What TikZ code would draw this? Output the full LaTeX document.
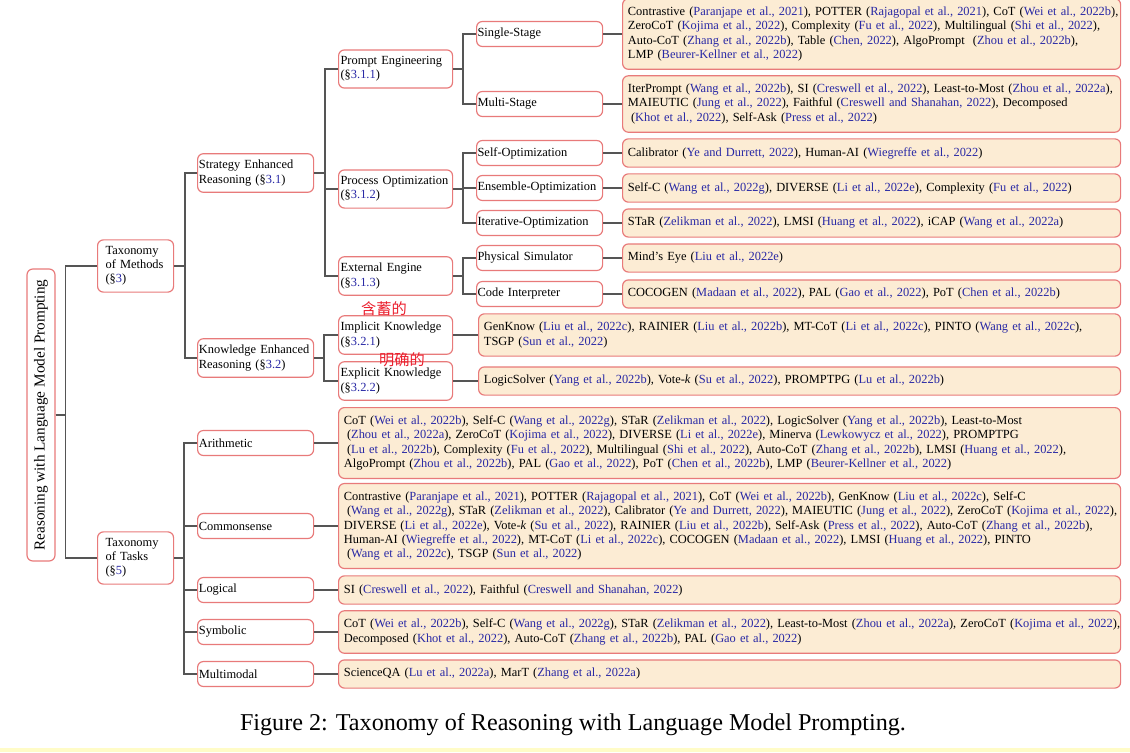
\documentclass[tikz,border=0pt]{standalone}
\usepackage{fontspec}
\setmainfont{Liberation Serif}
\newfontfamily\cjk{Noto Sans CJK SC}
\definecolor{citeblue}{RGB}{40,40,165}
\definecolor{edgered}{RGB}{232,122,122}
\definecolor{leaffill}{RGB}{252,236,212}
\definecolor{linkgray}{RGB}{85,85,85}
\definecolor{inkred}{RGB}{235,30,45}
\newcommand{\ct}[1]{({\color{citeblue}#1})}
\newcommand{\secnum}[1]{(\S{\color{citeblue}#1})}
\newcommand{\lead}{\hspace*{0.25em}}

\begin{document}
\begin{tikzpicture}[x=0.03cm,y=-0.03cm,
  box/.style={draw=edgered, line width=1pt, rounded corners=5pt, fill=white, align=left, anchor=west,
    font=\fontsize{10.6}{12.1}\selectfont, inner ysep=5.6pt, minimum height=0.75cm},
  taxbox/.style={box, text width=1.8cm, inner xsep=0.24cm},
  midbox/.style={box, text width=3.4cm, inner xsep=0.04cm},
  subbox/.style={box, text width=3.3cm, inner xsep=0.06cm},
  stagebox/.style={box, text width=3.72cm, inner xsep=0.03cm},
  refbox/.style={box, fill=leaffill, inner ysep=7.2pt, minimum height=0pt, inner xsep=0.02cm, text width=#1,
    execute at begin node={\leftskip=0.14cm\rightskip=0pt plus 1fil minus 6pt\linepenalty=5000}},
  rootbox/.style={draw=edgered, line width=1pt, rounded corners=5pt, rotate=90, minimum width=8.76cm,
    minimum height=0.84cm, inner sep=0pt, font=\fontsize{13}{15}\selectfont},
  inknote/.style={text=inkred, inner sep=0pt, font=\cjk\fontsize{13}{13}\selectfont},
  link/.style={draw=linkgray, line width=1.4pt},
]
\useasboundingbox (0,0) rectangle (1130,752);
\fill[yellow!22] (0,748) rectangle (1130,752);

\node[rootbox] (root) at (41,415) {Reasoning with Language Model Prompting};

\node[taxbox] (meth) at (97,266) {Taxonomy\\of Methods\\\secnum{3}};
\node[taxbox] (tasks) at (97,558) {Taxonomy\\of Tasks\\\secnum{5}};

\node[midbox] (strat) at (197,173) {Strategy Enhanced\\Reasoning \secnum{3.1}};
\node[midbox] (know) at (197,358) {Knowledge Enhanced\\Reasoning \secnum{3.2}};
\node[midbox] (arith) at (197,443) {Arithmetic};
\node[midbox] (common) at (197,526) {Commonsense};
\node[midbox] (logical) at (197,590) {Logical};
\node[midbox] (symbolic) at (197,632) {Symbolic};
\node[midbox] (multimodal) at (197,674) {Multimodal};

\node[subbox] (prompt) at (338,69) {Prompt Engineering\\\secnum{3.1.1}};
\node[subbox] (process) at (338,189) {Process Optimization\\\secnum{3.1.2}};
\node[subbox] (engine) at (338,276) {External Engine\\\secnum{3.1.3}};
\node[subbox] (implicit) at (338,335) {Implicit Knowledge\\\secnum{3.2.1}};
\node[subbox] (explicit) at (338,381) {Explicit Knowledge\\\secnum{3.2.2}};

\node[stagebox] (single) at (476,34) {Single-Stage};
\node[stagebox] (multi) at (476,104) {Multi-Stage};
\node[stagebox] (selfopt) at (476,153) {Self-Optimization};
\node[stagebox] (ensemble) at (476,188) {Ensemble-Optimization};
\node[stagebox] (iterative) at (476,223) {Iterative-Optimization};
\node[stagebox] (physical) at (476,258) {Physical Simulator};
\node[stagebox] (code) at (476,294) {Code Interpreter};

\node[refbox=14.9cm] (singlerefs) at (622,34) {Contrastive \ct{Paranjape et al., 2021}, POTTER \ct{Rajagopal et al., 2021}, CoT \ct{Wei et al., 2022b},\\
  ZeroCoT \ct{Kojima et al., 2022}, Complexity \ct{Fu et al., 2022}, Multilingual \ct{Shi et al., 2022},\\
  Auto-CoT \ct{Zhang et al., 2022b}, Table \ct{Chen, 2022}, AlgoPrompt~ \ct{Zhou et al., 2022b},\\
  LMP \ct{Beurer-Kellner et al., 2022}};
\node[refbox=14.9cm] (multirefs) at (622,104) {IterPrompt \ct{Wang et al., 2022b}, SI \ct{Creswell et al., 2022}, Least-to-Most \ct{Zhou et al., 2022a},\\
  MAIEUTIC \ct{Jung et al., 2022}, Faithful \ct{Creswell and Shanahan, 2022}, Decomposed\\
  \lead\ct{Khot et al., 2022}, Self-Ask \ct{Press et al., 2022}};
\node[refbox=14.9cm] (selfoptrefs) at (622,153) {Calibrator \ct{Ye and Durrett, 2022}, Human-AI \ct{Wiegreffe et al., 2022}};
\node[refbox=14.9cm] (ensemblerefs) at (622,188) {Self-C \ct{Wang et al., 2022g}, DIVERSE \ct{Li et al., 2022e}, Complexity \ct{Fu et al., 2022}};
\node[refbox=14.9cm] (iterativerefs) at (622,223) {STaR \ct{Zelikman et al., 2022}, LMSI \ct{Huang et al., 2022}, iCAP \ct{Wang et al., 2022a}};
\node[refbox=14.9cm] (physicalrefs) at (622,258) {Mind’s Eye \ct{Liu et al., 2022e}};
\node[refbox=14.9cm] (coderefs) at (622,294) {COCOGEN \ct{Madaan et al., 2022}, PAL \ct{Gao et al., 2022}, PoT \ct{Chen et al., 2022b}};

\node[refbox=19.22cm] (implicitrefs) at (478,335) {GenKnow \ct{Liu et al., 2022c}, RAINIER \ct{Liu et al., 2022b}, MT-CoT \ct{Li et al., 2022c}, PINTO \ct{Wang et al., 2022c},\\
  TSGP \ct{Sun et al., 2022}};
\node[refbox=19.22cm] (explicitrefs) at (478,381) {LogicSolver \ct{Yang et al., 2022b}, Vote-\textit{k} \ct{Su et al., 2022}, PROMPTPG \ct{Lu et al., 2022b}};

\node[refbox=23.42cm] (arithrefs) at (338,443) {CoT \ct{Wei et al., 2022b}, Self-C \ct{Wang et al., 2022g}, STaR \ct{Zelikman et al., 2022}, LogicSolver \ct{Yang et al., 2022b}, Least-to-Most\\
  \lead\ct{Zhou et al., 2022a}, ZeroCoT \ct{Kojima et al., 2022}, DIVERSE \ct{Li et al., 2022e}, Minerva \ct{Lewkowycz et al., 2022}, PROMPTPG\\
  \lead\ct{Lu et al., 2022b}, Complexity \ct{Fu et al., 2022}, Multilingual \ct{Shi et al., 2022}, Auto-CoT \ct{Zhang et al., 2022b}, LMSI \ct{Huang et al., 2022},\\
  AlgoPrompt \ct{Zhou et al., 2022b}, PAL \ct{Gao et al., 2022}, PoT \ct{Chen et al., 2022b}, LMP \ct{Beurer-Kellner et al., 2022}};
\node[refbox=23.42cm] (commonrefs) at (338,526) {Contrastive \ct{Paranjape et al., 2021}, POTTER \ct{Rajagopal et al., 2021}, CoT \ct{Wei et al., 2022b}, GenKnow \ct{Liu et al., 2022c}, Self-C\\
  \lead\ct{Wang et al., 2022g}, STaR \ct{Zelikman et al., 2022}, Calibrator \ct{Ye and Durrett, 2022}, MAIEUTIC \ct{Jung et al., 2022}, ZeroCoT \ct{Kojima et al., 2022},\\
  DIVERSE \ct{Li et al., 2022e}, Vote-\textit{k} \ct{Su et al., 2022}, RAINIER \ct{Liu et al., 2022b}, Self-Ask \ct{Press et al., 2022}, Auto-CoT \ct{Zhang et al., 2022b},\\
  Human-AI \ct{Wiegreffe et al., 2022}, MT-CoT \ct{Li et al., 2022c}, COCOGEN \ct{Madaan et al., 2022}, LMSI \ct{Huang et al., 2022}, PINTO\\
  \lead\ct{Wang et al., 2022c}, TSGP \ct{Sun et al., 2022}};
\node[refbox=23.42cm] (logicalrefs) at (338,590) {SI \ct{Creswell et al., 2022}, Faithful \ct{Creswell and Shanahan, 2022}};
\node[refbox=23.42cm] (symbolicrefs) at (338,632) {CoT \ct{Wei et al., 2022b}, Self-C \ct{Wang et al., 2022g}, STaR \ct{Zelikman et al., 2022}, Least-to-Most \ct{Zhou et al., 2022a}, ZeroCoT \ct{Kojima et al., 2022},\\
  Decomposed \ct{Khot et al., 2022}, Auto-CoT \ct{Zhang et al., 2022b}, PAL \ct{Gao et al., 2022}};
\node[refbox=23.42cm] (multimodalrefs) at (338,674) {ScienceQA \ct{Lu et al., 2022a}, MarT \ct{Zhang et al., 2022a}};

\node[inknote] (hintimplicit) at (384,309) {含蓄的};
\node[inknote] (hintexplicit) at (402,360) {明确的};

\node[font=\fontsize{20.6}{24}\selectfont] (caption) at (573,725) {Figure 2: Taxonomy of Reasoning with Language Model Prompting.};

\draw[link] (root.south) -- ++(10,0) |- (meth.west);
\draw[link] (root.south) -- ++(10,0) |- (tasks.west);
\draw[link] (meth.east) -- ++(11,0) |- (strat.west);
\draw[link] (meth.east) -- ++(11,0) |- (know.west);
\draw[link] (tasks.east) -- ++(10,0) |- (arith.west);
\draw[link] (tasks.east) -- ++(10,0) |- (common.west);
\draw[link] (tasks.east) -- ++(10,0) |- (logical.west);
\draw[link] (tasks.east) -- ++(10,0) |- (symbolic.west);
\draw[link] (tasks.east) -- ++(10,0) |- (multimodal.west);
\draw[link] (strat.east) -- ++(11,0) |- (prompt.west);
\draw[link] (strat.east) -- ++(11,0) |- (process.west);
\draw[link] (strat.east) -- ++(11,0) |- (engine.west);
\draw[link] (know.east) -- ++(10,0) |- (implicit.west);
\draw[link] (know.east) -- ++(10,0) |- (explicit.west);
\draw[link] (prompt.east) -- ++(10,0) |- (single.west);
\draw[link] (prompt.east) -- ++(10,0) |- (multi.west);
\draw[link] (process.east) -- ++(10,0) |- (selfopt.west);
\draw[link] (process.east) -- ++(10,0) |- (ensemble.west);
\draw[link] (process.east) -- ++(10,0) |- (iterative.west);
\draw[link] (engine.east) -- ++(10,0) |- (physical.west);
\draw[link] (engine.east) -- ++(10,0) |- (code.west);
\draw[link] (single) -- (singlerefs);
\draw[link] (multi) -- (multirefs);
\draw[link] (selfopt) -- (selfoptrefs);
\draw[link] (ensemble) -- (ensemblerefs);
\draw[link] (iterative) -- (iterativerefs);
\draw[link] (physical) -- (physicalrefs);
\draw[link] (code) -- (coderefs);
\draw[link] (implicit) -- (implicitrefs);
\draw[link] (explicit) -- (explicitrefs);
\draw[link] (arith) -- (arithrefs);
\draw[link] (common) -- (commonrefs);
\draw[link] (logical) -- (logicalrefs);
\draw[link] (symbolic) -- (symbolicrefs);
\draw[link] (multimodal) -- (multimodalrefs);
\end{tikzpicture}
\end{document}
